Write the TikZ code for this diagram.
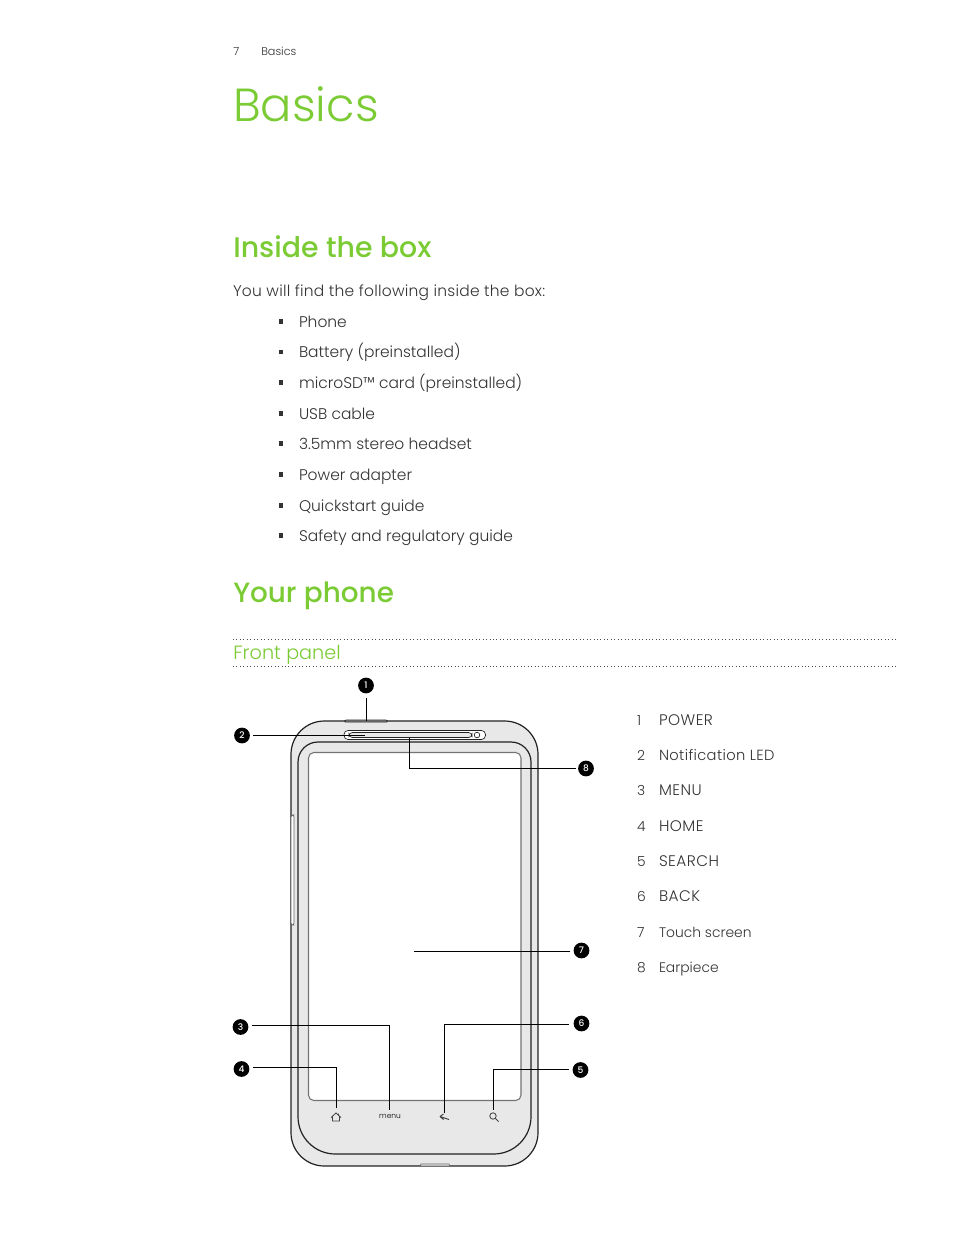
\documentclass[tikz,border=0pt]{standalone}
\usepackage{fontspec}
\setmainfont[UprightFont=* Light,BoldFont=* Medium]{Poppins}
\definecolor{htcgreen}{HTML}{7BCB35}
\definecolor{txt}{HTML}{333333}
\definecolor{panel}{HTML}{E8E8E8}
\definecolor{edge}{HTML}{222222}
\newcommand{\capl}[1]{\fontsize{11.5pt}{14pt}\selectfont\addfontfeatures{LetterSpace=3}#1}
\newcommand{\mixl}[1]{\fontsize{11pt}{14pt}\selectfont\addfontfeatures{LetterSpace=2.5}#1}
\tikzset{
 x=0.75pt,y=-0.75pt,
 txtn/.style={anchor=base west,inner sep=0pt,outer sep=0pt,text=txt,font=\fontsize{11.6pt}{14pt}\selectfont},
 legn/.style={anchor=base west,inner sep=0pt,outer sep=0pt,text=txt,font=\fontsize{10.4pt}{13pt}\selectfont},
 h1n/.style={anchor=base west,inner sep=0pt,text=htcgreen,font=\fontsize{34.8pt}{40pt}\selectfont},
 h2n/.style={anchor=base west,inner sep=0pt,text=htcgreen,font=\bfseries\fontsize{21.3pt}{24pt}\selectfont},
 h3n/.style={anchor=base west,inner sep=0pt,text=htcgreen,font=\fontsize{14.4pt}{18pt}\selectfont},
 headn/.style={anchor=base west,inner sep=0pt,text=txt,font=\fontsize{8.4pt}{10pt}\selectfont},
 bul/.style={fill=txt,draw=none,minimum size=3.2pt,inner sep=0pt},
 num/.style={circle,fill=black,text=white,minimum size=11.8pt,inner sep=0pt,font=\bfseries\fontsize{6.8pt}{7pt}\selectfont},
 lead/.style={draw=black,line width=0.7pt},
 rule/.style={draw=black!70,line width=0.6pt,dotted},
 body/.style={draw=edge,line width=0.9pt},
}
\begin{document}
\begin{tikzpicture}
\useasboundingbox (0,0) rectangle (954,1235);
\fill[white] (0,0) rectangle (954,1235);
% header
\node[headn] (pnum) at (233,55.5) {7};
\node[headn] (psec) at (261,55.5) {Basics};
\node[h1n] (t1) at (233,121.3) {Basics};
\node[h2n] (t2) at (233,257.5) {Inside the box};
\node[txtn] (intro) at (233,296) {\addfontfeatures{LetterSpace=1.6}You will find the following inside the box:};
\foreach \yy/\tt in {327/Phone,357.5/Battery (preinstalled),388/microSD™ card (preinstalled),419/USB cable,449/3.5mm stereo headset,480/Power adapter,511/Quickstart guide,541/Safety and regulatory guide}{
  \node[bul] at (281,\yy-5.5) {};
  \node[txtn] at (299,\yy) {\tt};
}
\node[h2n,font=\bfseries\fontsize{20.9pt}{24pt}\selectfont] (t3) at (233,602) {Your phone};
\coordinate (r1a) at (233,639); \coordinate (r1b) at (898.5,639);
\coordinate (r2a) at (233,666); \coordinate (r2b) at (898.5,666);
\draw[rule] (r1a) -- (r1b);
\draw[rule] (r2a) -- (r2b);
\node[h3n] (t4) at (233,659) {Front panel};
% phone
\draw[body,fill=panel,rounded corners=25pt] (291,721) rectangle (538,1166);
\draw[draw=edge,line width=0.5pt,fill=black!45,rounded corners=0.8pt] (344,722) -- (345,720) -- (387,720) -- (388,722) -- cycle;
\draw[draw=black!60,line width=0.5pt,fill=panel] (420,1166) -- (421,1164) -- (449,1164) -- (450,1166) -- cycle;
\draw[draw=black!60,line width=0.6pt,fill=white,rounded corners=1.5pt] (291,815) rectangle (294,925);
\draw[body,fill=panel] (298,1000) [rounded corners=15pt] -- (298,742) -- (531,742) [rounded corners=28pt] -- (531,1154) -- (298,1154) -- cycle;
\draw[draw=black!55,line width=0.8pt,fill=white,rounded corners=4pt] (308.5,752.5) rectangle (521,1100.5);
% earpiece
\draw[draw=edge,line width=0.5pt,fill=white,rounded corners=3pt] (344,730.5) rectangle (485.5,739.5);
\draw[draw=edge,line width=0.5pt,fill=panel,rounded corners=2.5pt] (349,732.5) rectangle (472,737.5);
\draw[draw=edge,line width=0.5pt,fill=white] (477,735) circle[radius=2.8];
% icons
\draw[draw=black!75,line width=0.6pt] (331,1117.5) -- (336,1113) -- (341,1117.5) (332.5,1116.5) -- (332.5,1121) -- (339.5,1121) -- (339.5,1116.5) (338.5,1113.5) -- (338.5,1115);
\node[inner sep=0pt,text=black,font=\fontsize{5.6pt}{6pt}\selectfont] (menu) at (390,1116.5) {menu};
\draw[draw=black!75,line width=0.7pt] (440,1116.5) -- (449,1119.5) (440,1116.5) -- (443.5,1114) (440,1116.5) -- (443.5,1119.5);
\draw[draw=black!75,line width=0.6pt] (493,1116) circle[radius=3.2] (495.5,1118.5) -- (498.5,1121.5);
% callouts
\node[num] (n1) at (366,685.5) {1};
\node[num] (n2) at (242,735.5) {2};
\node[num] (n8) at (586,768.5) {8};
\node[num] (n7) at (581.5,950.5) {7};
\node[num] (n3) at (240.5,1027) {3};
\node[num] (n6) at (581.5,1023.5) {6};
\node[num] (n4) at (241.5,1069) {4};
\node[num] (n5) at (580.5,1070) {5};
\coordinate (e1) at (366,721);
\coordinate (e2) at (365,735);
\coordinate (e8) at (409,738);
\coordinate (e7) at (414,951);
\coordinate (e3) at (389.5,1110);
\coordinate (e6) at (444,1113);
\coordinate (e4) at (336.5,1108);
\coordinate (e5) at (493,1110);
\draw[lead] (366,698) -- (e1);
\draw[lead] (253,735) -- (e2);
\draw[lead] (576,768) -- (409,768) -- (e8);
\draw[lead] (570,951) -- (e7);
\draw[lead] (252,1025.5) -- (389.5,1025.5) -- (e3);
\draw[lead] (569,1024) -- (444,1024) -- (e6);
\draw[lead] (253,1067.5) -- (336.5,1067.5) -- (e4);
\draw[lead] (569,1069.5) -- (493,1069.5) -- (e5);
% legend
\foreach \yy/\nn/\tt in {725/1/\capl{POWER},760.5/2/\mixl{Notification LED},795.5/3/\capl{MENU},831/4/\capl{HOME},866/5/\capl{SEARCH},901.5/6/\capl{BACK},937/7/Touch screen,972/8/Earpiece}{
  \node[legn] at (637,\yy) {\nn};
  \node[legn] at (659,\yy) {\tt};
}
\end{tikzpicture}
\end{document}
